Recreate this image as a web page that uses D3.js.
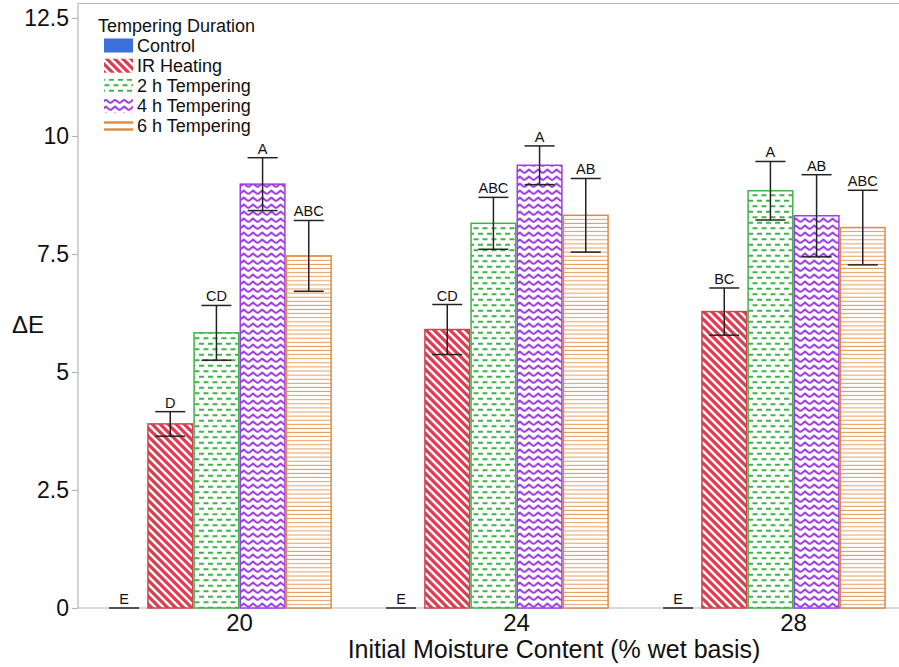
<!DOCTYPE html>
<html>
<head>
<meta charset="utf-8">
<script src="https://cdn.jsdelivr.net/npm/d3@7/dist/d3.min.js"></script>
<style>
  html, body { margin: 0; padding: 0; background: #ffffff; }
  svg { display: block; font-family: "Liberation Sans", Arial, sans-serif; }
</style>
</head>
<body>
<svg id="chart" width="899" height="667"></svg>
<script>
// ---------------- data ----------------
const groups = ["20", "24", "28"];
const seriesNames = ["Control", "IR Heating", "2 h Tempering", "4 h Tempering", "6 h Tempering"];

const meanControl = [0, 0, 0];
const meanIR      = [3.90, 5.90, 6.28];
const mean2h      = [5.83, 8.15, 8.84];
const mean4h      = [8.98, 9.38, 8.31];
const mean6h      = [7.46, 8.32, 8.06];

const errControl = [0, 0, 0];
const errIR      = [0.26, 0.53, 0.50];
const err2h      = [0.58, 0.55, 0.62];
const err4h      = [0.56, 0.41, 0.87];
const err6h      = [0.75, 0.78, 0.79];

const letControl = ["E", "E", "E"];
const letIR      = ["D", "CD", "BC"];
const let2h      = ["CD", "ABC", "A"];
const let4h      = ["A", "A", "AB"];
const let6h      = ["ABC", "AB", "ABC"];

const yTickValues = [0, 2.5, 5, 7.5, 10, 12.5];
const yTickLabels = ["0", "2.5", "5", "7.5", "10", "12.5"];

const seriesColors = ["#3d6fd8", "#d63f4f", "#3fb449", "#9d3de3", "#dd8a45"];
const seriesFills  = ["#3d6fd8", "url(#pIR)", "url(#p2h)", "url(#p4h)", "url(#p6h)"];
const legendFills  = ["#3d6fd8", "url(#pIR)", "url(#p2h)", "url(#p4h)", "url(#p6hL)"];

// ---------------- setup ----------------
const svg = d3.select("#chart");
const plotLeft = 78, plotRight = 899, plotTop = 3.5, plotBottom = 608;

const defs = svg.append("defs");
// IR: diagonal stripes
const pIR = defs.append("pattern").attr("id", "pIR").attr("patternUnits", "userSpaceOnUse")
  .attr("width", 8).attr("height", 8);
pIR.append("rect").attr("width", 8).attr("height", 8).attr("fill", "#fff");
pIR.append("path").attr("d", "M-2,-2 L10,10 M-2,6 L2,10 M6,-2 L10,2")
  .attr("stroke", "#d63f4f").attr("stroke-width", 3.2);
// 2h: staggered dashes
const p2h = defs.append("pattern").attr("id", "p2h").attr("patternUnits", "userSpaceOnUse")
  .attr("width", 9).attr("height", 11);
p2h.append("rect").attr("width", 9).attr("height", 11).attr("fill", "#fff");
p2h.append("path").attr("d", "M1,2.75 L6,2.75 M5.5,8.25 L10.5,8.25 M-3.5,8.25 L1.5,8.25")
  .attr("stroke", "#3fb449").attr("stroke-width", 1.8);
// 4h: zigzag
const p4h = defs.append("pattern").attr("id", "p4h").attr("patternUnits", "userSpaceOnUse")
  .attr("width", 9.2).attr("height", 7);
p4h.append("rect").attr("width", 9.2).attr("height", 7).attr("fill", "#fff");
p4h.append("path").attr("d", "M0,5.2 L4.6,1.6 L9.2,5.2").attr("fill", "none")
  .attr("stroke", "#9d3de3").attr("stroke-width", 2);
// 6h: horizontal lines
const p6h = defs.append("pattern").attr("id", "p6h").attr("patternUnits", "userSpaceOnUse")
  .attr("width", 8).attr("height", 4.1);
p6h.append("rect").attr("width", 8).attr("height", 4.1).attr("fill", "#fff");
p6h.append("path").attr("d", "M0,2 L8,2").attr("stroke", "#e39a5c").attr("stroke-width", 1);
// 6h legend: thicker lines
const p6hL = defs.append("pattern").attr("id", "p6hL").attr("patternUnits", "userSpaceOnUse")
  .attr("width", 8).attr("height", 7);
p6hL.append("rect").attr("width", 8).attr("height", 7).attr("fill", "#fff");
p6hL.append("path").attr("d", "M0,3.5 L8,3.5").attr("stroke", "#dd8a45").attr("stroke-width", 2.4);

// ---------------- scales ----------------
const y = d3.scaleLinear().domain([0, 12.5]).range([plotBottom, 18]);
const x0 = d3.scaleBand().domain(groups).range([101, 932]).paddingInner(0).paddingOuter(0);
const x1 = d3.scaleBand().domain([...seriesNames, "_gap"]).range([0, x0.bandwidth()]).padding(0);

// ---------------- frame ----------------
const frame = svg.append("g").attr("stroke", "#b5b5b5").attr("stroke-width", 1.2).attr("fill", "none");
frame.append("line").attr("x1", plotLeft).attr("x2", plotRight).attr("y1", plotTop).attr("y2", plotTop);
frame.append("line").attr("x1", plotLeft).attr("x2", plotLeft).attr("y1", plotTop).attr("y2", plotBottom);
frame.append("line").attr("x1", plotLeft).attr("x2", plotRight).attr("y1", plotBottom).attr("y2", plotBottom);

// ---------------- y axis ----------------
const yAxis = d3.axisLeft(y).tickValues(yTickValues)
  .tickFormat((d, i) => yTickLabels[i]).tickSize(6).tickPadding(3);
const gy = svg.append("g").attr("transform", `translate(${plotLeft},0)`).call(yAxis);
gy.select(".domain").remove();
gy.selectAll(".tick line").attr("stroke", "#b5b5b5").attr("stroke-width", 1.2);
gy.selectAll(".tick text").attr("fill", "#111").attr("font-size", 23)
  .attr("font-family", "Liberation Sans, Arial, sans-serif");

// ---------------- x axis ----------------
const xAxis = d3.axisBottom(x0).tickSize(0).tickPadding(6);
const gx = svg.append("g").attr("transform", `translate(0,${plotBottom})`).call(xAxis);
gx.select(".domain").remove();
gx.selectAll(".tick text").attr("fill", "#111").attr("font-size", 24)
  .attr("font-family", "Liberation Sans, Arial, sans-serif");

// axis titles
svg.append("text").attr("x", 554).attr("y", 658).attr("text-anchor", "middle")
  .attr("font-size", 25).attr("fill", "#111").text("Initial Moisture Content (% wet basis)");
svg.append("text").attr("x", 12).attr("y", 333).attr("text-anchor", "start")
  .attr("font-size", 24).attr("fill", "#111").text("ΔE");

// ---------------- bars ----------------
const means = [meanControl, meanIR, mean2h, mean4h, mean6h];
const errs = [errControl, errIR, err2h, err4h, err6h];
const lets = [letControl, letIR, let2h, let4h, let6h];

const rows = [];
groups.forEach((g, gi) => {
  seriesNames.forEach((s, si) => {
    rows.push({ g, s, si, v: means[si][gi], e: errs[si][gi], l: lets[si][gi] });
  });
});

const bars = svg.append("g");
bars.selectAll("rect").data(rows.filter(d => d.v > 0)).join("rect")
  .attr("x", d => x0(d.g) + x1(d.s) + 0.75)
  .attr("y", d => y(d.v))
  .attr("width", x1.bandwidth() - 1.5)
  .attr("height", d => y(0) - y(d.v))
  .attr("fill", d => seriesFills[d.si])
  .attr("stroke", d => seriesColors[d.si])
  .attr("stroke-width", 1.5);

// error bars
const capHalf = 15;
const eb = svg.append("g").attr("stroke", "#222").attr("stroke-width", 1.5);
rows.forEach(d => {
  const cx = x0(d.g) + x1(d.s) + x1.bandwidth() / 2;
  if (d.e > 0) {
    eb.append("line").attr("x1", cx).attr("x2", cx).attr("y1", y(d.v + d.e)).attr("y2", y(d.v - d.e));
    eb.append("line").attr("x1", cx - capHalf).attr("x2", cx + capHalf).attr("y1", y(d.v - d.e)).attr("y2", y(d.v - d.e));
  }
  eb.append("line").attr("x1", cx - capHalf).attr("x2", cx + capHalf).attr("y1", y(d.v + d.e)).attr("y2", y(d.v + d.e));
});

// letters
svg.append("g").selectAll("text").data(rows).join("text")
  .attr("x", d => x0(d.g) + x1(d.s) + x1.bandwidth() / 2)
  .attr("y", d => y(d.v + d.e) - 4)
  .attr("text-anchor", "middle")
  .attr("font-size", 14.5)
  .attr("fill", "#111")
  .text(d => d.l);

// ---------------- legend ----------------
const legend = svg.append("g");
legend.append("text").attr("x", 98).attr("y", 32).attr("font-size", 18).attr("fill", "#111")
  .text("Tempering Duration");
seriesNames.forEach((s, i) => {
  const cy = 45.5 + i * 20.2;
  legend.append("rect").attr("x", 104).attr("y", cy - 7).attr("width", 29).attr("height", 14)
    .attr("fill", legendFills[i]);
  legend.append("text").attr("x", 137).attr("y", cy + 6).attr("font-size", 18).attr("fill", "#111").text(s);
});
</script>
</body>
</html>
